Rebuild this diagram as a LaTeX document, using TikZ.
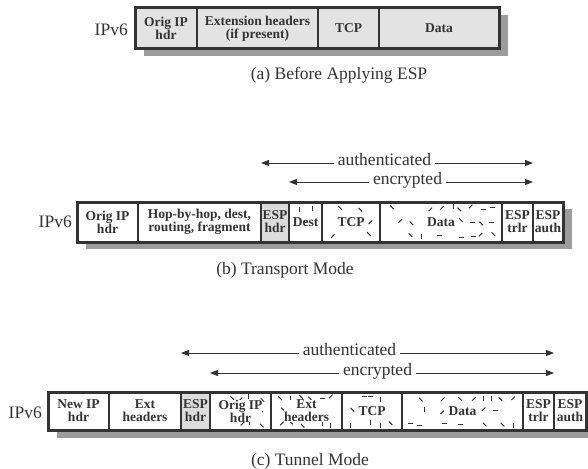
\documentclass[tikz,border=0pt]{standalone}
\usepackage{fontspec}
\setmainfont{Liberation Serif}
\usetikzlibrary{arrows.meta}
\definecolor{ink}{HTML}{333333}
\definecolor{shade}{HTML}{9C9C9C}
\definecolor{paleA}{HTML}{E3E3E3}
\definecolor{espgray}{HTML}{DCDCDC}
\tikzset{
  cellbox/.style={draw=ink, line width=2.4pt, inner sep=0pt, fill=white,
    font=\fontsize{13.5}{13}\selectfont\bfseries, text=ink, align=center},
  celltext/.style={inner sep=0pt, fill=white,
    font=\fontsize{13.5}{13}\selectfont\bfseries, text=ink, align=center},
  frame/.style={draw=ink, line width=3pt},
  shadowbox/.style={fill=shade},
  lbl/.style={font=\fontsize{17.5}{20}\selectfont, text=ink, inner sep=0pt},
  span/.style={draw=ink, line width=1pt, -{Triangle[length=8pt,width=6pt]}},
  spanlbl/.style={lbl, inner xsep=4pt, anchor=mid},
  speck/.style={draw=ink, line width=1pt},
}
% plain cell: name, x1, x2, y1, y2, extra style, text
\newcommand\cellat[7]{%
  \pgfmathsetmacro\cx{(#2+#3)/2}\pgfmathsetmacro\cy{(#4+#5)/2}%
  \pgfmathsetmacro\cw{#3-#2}\pgfmathsetmacro\ch{#5-#4}%
  \node[cellbox,#6,minimum width=\cw pt,minimum height=\ch pt] (#1) at (\cx,\cy) {#7};}
% encrypted cell: empty box, short strokes scattered on a jittered grid,
% then the label on top
\newcommand\enccell[7]{%
  \cellat{#1}{#2}{#3}{#4}{#5}{}{}%
  \pgfmathtruncatemacro\ncol{max(2,(#3-#2-8)/10)}%
  \pgfmathsetmacro\colw{(#3-#2-10)/\ncol}%
  \pgfmathsetmacro\rowh{(#5-#4-12)/2}%
  \pgfmathtruncatemacro\lastcol{\ncol-1}%
  \foreach \i in {0,...,\lastcol}{%
    \foreach \j in {0,1,2}{%
      \pgfmathtruncatemacro\keep{rnd<0.62 ? 1 : 0}%
      \ifnum\keep=1
        \pgfmathsetmacro\sx{#2+5+(\i+0.5)*\colw+(rnd-0.5)*5}%
        \pgfmathsetmacro\sy{#4+6+\j*\rowh+(rnd-0.5)*4}%
        \pgfmathsetmacro\sa{int(rnd*4)*45}%
        \draw[speck] (\sx,\sy) ++(\sa+180:2.5) -- ++(\sa:5);
      \fi
    }%
  }%
  \node[celltext,#6] (#1t) at (#1.center) {#7};}

\begin{document}
\begin{tikzpicture}[x=1pt,y=-1pt]
\useasboundingbox[fill=white] (0,0) rectangle (588,468);
\pgfmathsetseed{23}

% ---------- (a) before applying ESP ----------
\fill[shadowbox] (144,15) rectangle (508,56);
\cellat{a1}{135}{197}{8}{49}{fill=paleA}{Orig IP\\hdr}
\cellat{a2}{197}{318}{8}{49}{fill=paleA}{Extension headers\\(if present)}
\cellat{a3}{318}{379}{8}{49}{fill=paleA}{TCP}
\cellat{a4}{379}{499}{8}{49}{fill=paleA}{Data}
\draw[frame] (135,8) rectangle (499,49);
\node[lbl, anchor=east] (aip) at (128,30) {IPv6};
\node[lbl] (acap) at (339,75) {(a) Before Applying ESP};

% ---------- (b) transport mode ----------
\fill[shadowbox] (86,209) rectangle (572,249);
\cellat{b1}{77}{138}{202}{242}{}{Orig IP\\hdr}
\cellat{b2}{138}{261}{202}{242}{}{Hop-by-hop, dest,\\routing, fragment}
\cellat{b3}{261}{289}{202}{242}{fill=espgray}{ESP\\hdr}
\enccell{b4}{289}{322}{202}{242}{}{Dest}
\enccell{b5}{322}{380}{202}{242}{}{TCP}
\enccell{b6}{380}{502}{202}{242}{}{Data}
\cellat{b7}{502}{533}{202}{242}{}{ESP\\trlr}
\cellat{b8}{533}{563}{202}{242}{}{ESP\\auth}
\draw[frame] (77,202) rectangle (563,242);
\node[lbl, anchor=east] (bip) at (72,222) {IPv6};

\coordinate (bauthL) at (261,163);
\coordinate (bauthR) at (533,163);
\node[spanlbl] (bauth) at (384.5,163) {authenticated};
\draw[span] (bauth.mid west) -- (bauthL);
\draw[span] (bauth.mid east) -- (bauthR);
\coordinate (bencL) at (289,182);
\coordinate (bencR) at (533,182);
\node[spanlbl] (benc) at (407.5,182) {encrypted};
\draw[span] (benc.mid west) -- (bencL);
\draw[span] (benc.mid east) -- (bencR);
\node[lbl] (bcap) at (285,270) {(b) Transport Mode};

% ---------- (c) tunnel mode ----------
\fill[shadowbox] (57,399) rectangle (595,438);
\cellat{c1}{48}{109}{392}{430}{}{New IP\\hdr}
\cellat{c2}{109}{181}{392}{430}{}{Ext\\headers}
\cellat{c3}{181}{210}{392}{430}{fill=espgray}{ESP\\hdr}
\enccell{c4}{210}{271}{392}{430}{}{Orig IP\\hdr}
\enccell{c5}{271}{342}{392}{430}{}{Ext\\headers}
\enccell{c6}{342}{402}{392}{430}{}{TCP}
\enccell{c7}{402}{523}{392}{430}{}{Data}
\cellat{c8}{523}{554}{392}{430}{}{ESP\\trlr}
\cellat{c9}{554}{586}{392}{430}{}{ESP\\auth}
\draw[frame] (48,392) rectangle (586,430);
\node[lbl, anchor=east] (cip) at (42,413) {IPv6};

\coordinate (cauthL) at (181,353);
\coordinate (cauthR) at (554,353);
\node[spanlbl] (cauth) at (349.5,353) {authenticated};
\draw[span] (cauth.mid west) -- (cauthL);
\draw[span] (cauth.mid east) -- (cauthR);
\coordinate (cencL) at (210,373);
\coordinate (cencR) at (554,373);
\node[spanlbl] (cenc) at (377.5,373) {encrypted};
\draw[span] (cenc.mid west) -- (cencL);
\draw[span] (cenc.mid east) -- (cencR);
\node[lbl] (ccap) at (310,461) {(c) Tunnel Mode};
\end{tikzpicture}
\end{document}
